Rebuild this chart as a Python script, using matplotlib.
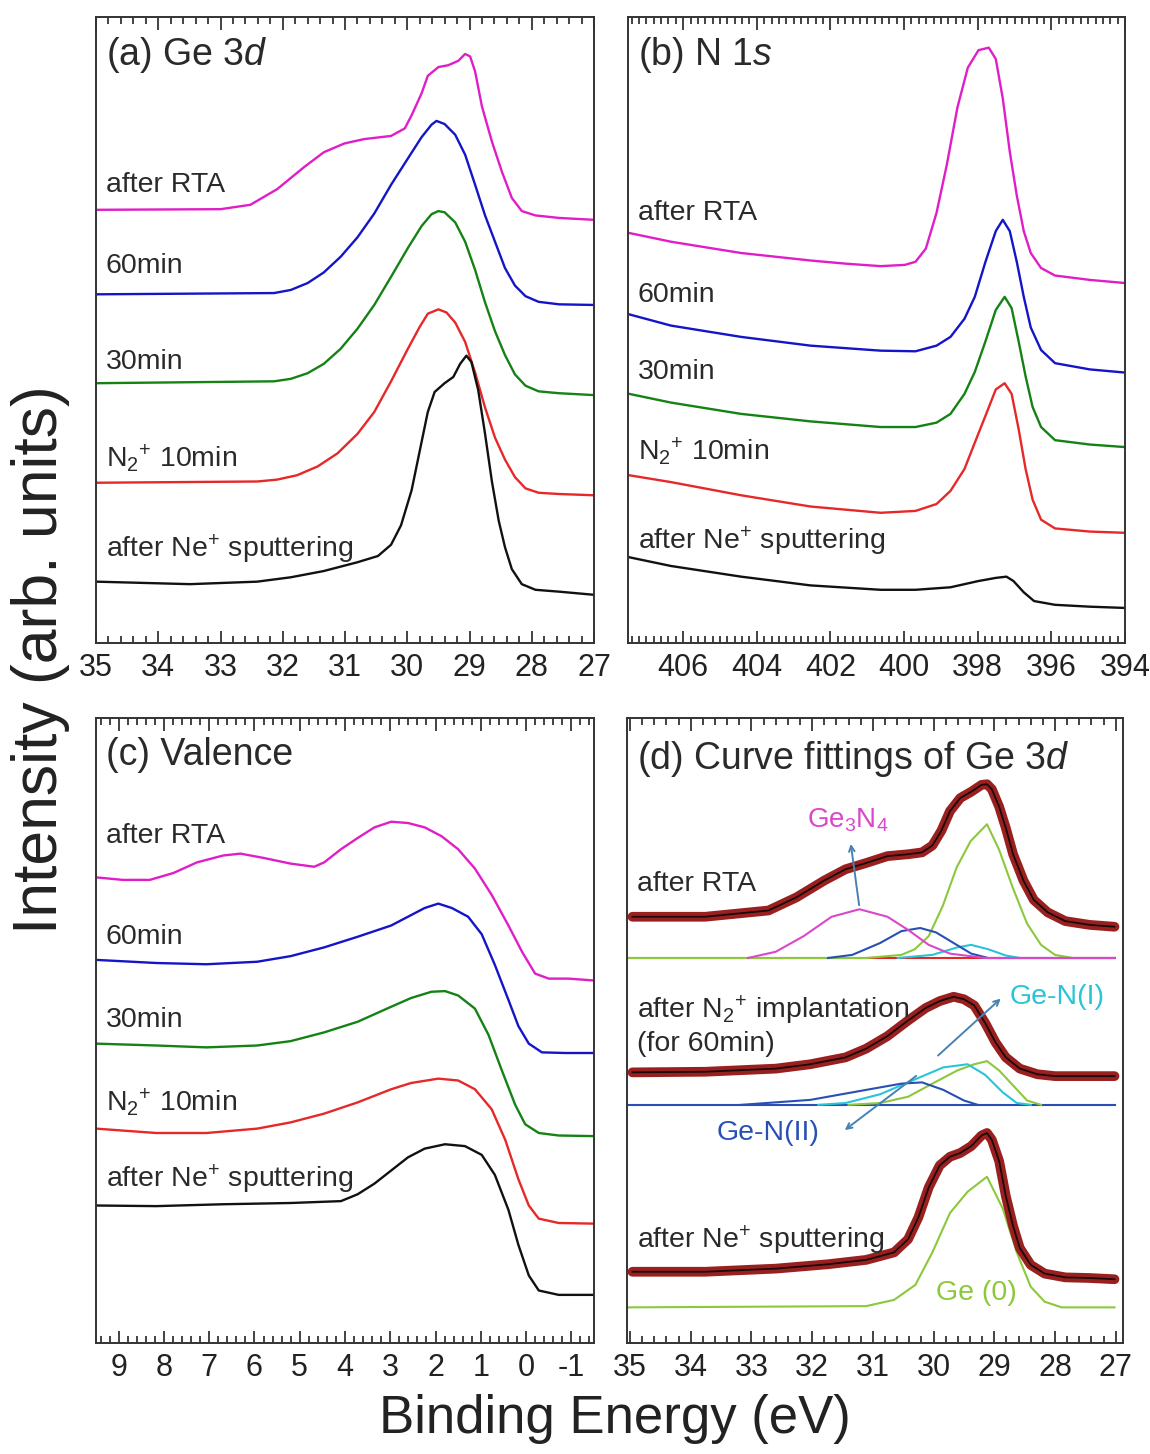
import matplotlib
matplotlib.use('Agg')
import matplotlib.pyplot as plt
from matplotlib import font_manager
from matplotlib.ticker import MultipleLocator

# pick a condensed Arial-like face if it is there
names = {f.name for f in font_manager.fontManager.ttflist}
base = 'Liberation Sans Narrow' if 'Liberation Sans Narrow' in names else 'Liberation Sans'
plt.rcParams['font.family'] = [base, 'DejaVu Sans']
plt.rcParams['mathtext.fontset'] = 'custom'
plt.rcParams['mathtext.rm'] = base
plt.rcParams['mathtext.it'] = base + ':italic'
plt.rcParams['axes.unicode_minus'] = False

# ---------------- data (intensity in arb. units, 0-100 of frame) ----------------
labels = ['after RTA', '60min', '30min', r'N$_2$$^{+}$ 10min', r'after Ne$^{+}$ sputtering']
colors = ['#e01ec8', '#1414c8', '#148214', '#e62828', '#111111']

# (a) Ge 3d
a_rta_x = [35.00, 33.00, 32.52, 32.09, 31.66, 31.34, 31.01, 30.69, 30.26, 30.04, 29.93, 29.77, 29.67, 29.50,
           29.34, 29.18, 29.07, 28.99, 28.91, 28.80, 28.64, 28.48, 28.32, 28.16, 27.94, 27.56, 27.00]
a_rta_y = [69.2, 69.3, 70.0, 72.5, 76.0, 78.4, 79.8, 80.5, 81.0, 82.2, 84.3, 87.8, 90.6, 92.0,
           92.3, 93.0, 94.1, 93.7, 91.3, 85.7, 80.1, 75.3, 71.1, 69.0, 68.3, 67.9, 67.6]
a_60_x = [35.00, 32.14, 31.87, 31.60, 31.34, 31.07, 30.80, 30.53, 30.26, 29.99, 29.77, 29.61, 29.53,
          29.40, 29.23, 29.07, 28.91, 28.75, 28.59, 28.43, 28.27, 28.10, 27.89, 27.56, 27.00]
a_60_y = [55.7, 55.9, 56.4, 57.5, 59.2, 61.7, 64.8, 68.6, 73.2, 77.4, 80.8, 82.8, 83.4,
          82.9, 81.2, 78.0, 73.2, 68.3, 64.1, 59.9, 57.1, 55.4, 54.5, 54.1, 54.0]
a_30_x = [35.00, 32.14, 31.87, 31.60, 31.34, 31.07, 30.80, 30.53, 30.26, 29.99, 29.77, 29.61, 29.50,
          29.40, 29.23, 29.07, 28.91, 28.75, 28.59, 28.43, 28.27, 28.10, 27.89, 27.56, 27.00]
a_30_y = [41.5, 41.8, 42.2, 43.1, 44.6, 47.0, 50.2, 54.0, 58.5, 63.1, 66.6, 68.5, 69.0,
          68.8, 67.2, 64.1, 59.6, 54.4, 49.8, 46.0, 42.9, 41.1, 40.2, 39.9, 39.6]
a_10_x = [35.00, 32.41, 32.09, 31.77, 31.44, 31.12, 30.80, 30.53, 30.26, 29.99, 29.80, 29.67, 29.50,
          29.37, 29.23, 29.07, 28.91, 28.75, 28.59, 28.43, 28.27, 28.10, 27.89, 27.56, 27.00]
a_10_y = [25.6, 25.8, 26.1, 26.8, 28.2, 30.3, 33.4, 36.9, 41.8, 47.0, 50.5, 52.6, 53.3,
          52.8, 51.2, 48.1, 43.2, 37.6, 32.8, 29.3, 26.5, 24.7, 24.0, 23.8, 23.6]
a_ne_x = [35.00, 33.49, 32.41, 31.87, 31.34, 30.80, 30.47, 30.26, 30.10, 29.93, 29.77, 29.67, 29.56, 29.40,
          29.26, 29.15, 29.05, 28.97, 28.86, 28.75, 28.64, 28.53, 28.43, 28.32, 28.16, 27.94, 27.56, 27.00]
a_ne_y = [9.8, 9.4, 9.8, 10.5, 11.5, 12.9, 13.9, 15.7, 18.8, 24.4, 32.1, 36.9, 40.1, 41.5,
          42.5, 44.6, 45.9, 44.9, 40.4, 33.4, 25.8, 19.5, 15.3, 11.8, 9.4, 8.5, 8.2, 7.7]
a_label_y = [73.2, 60.3, 44.9, 29.6, 15.0]

# (b) N 1s
b_rta_x = [407.47, 406.33, 404.43, 402.54, 401.59, 400.64, 399.98, 399.69, 399.41, 399.12, 398.84, 398.55, 398.27,
           397.98, 397.70, 397.51, 397.32, 397.13, 396.94, 396.75, 396.56, 396.28, 395.90, 394.95, 394.00]
b_rta_y = [65.5, 64.1, 62.3, 61.1, 60.6, 60.2, 60.4, 60.9, 63.0, 68.7, 76.4, 85.6, 91.9,
           94.7, 95.1, 93.3, 87.0, 78.5, 71.5, 65.8, 62.3, 59.9, 58.7, 58.0, 57.5]
b_60_x = [407.47, 406.33, 404.43, 402.54, 400.64, 399.69, 399.12, 398.74, 398.36, 398.08, 397.79,
          397.51, 397.32, 397.13, 396.94, 396.75, 396.56, 396.28, 395.90, 394.95, 394.00]
b_60_y = [52.5, 50.7, 48.9, 47.5, 46.7, 46.6, 47.5, 48.9, 51.8, 55.3, 60.9,
          65.8, 67.6, 65.8, 60.9, 55.3, 50.4, 46.8, 44.7, 43.7, 43.2]
b_30_x = [407.47, 406.33, 404.43, 402.54, 400.64, 399.69, 399.12, 398.74, 398.36, 398.08, 397.79,
          397.51, 397.27, 397.08, 396.89, 396.70, 396.51, 396.28, 395.90, 394.95, 394.00]
b_30_y = [39.8, 38.4, 36.6, 35.4, 34.5, 34.5, 35.2, 36.6, 39.8, 43.3, 48.2,
          53.2, 55.3, 53.5, 48.2, 42.6, 37.7, 34.5, 32.4, 31.7, 31.3]
b_10_x = b_30_x
b_10_y = [26.8, 25.7, 23.6, 21.8, 20.8, 21.1, 22.2, 24.3, 27.8, 32.0, 36.3,
          40.5, 41.5, 39.8, 34.2, 27.8, 22.9, 19.7, 18.3, 17.8, 17.6]
b_ne_x = [407.47, 406.33, 404.43, 402.54, 400.64, 399.69, 398.74, 397.98, 397.51, 397.22, 397.03,
          396.75, 396.47, 395.90, 394.95, 394.00]
b_ne_y = [13.7, 12.3, 10.6, 9.2, 8.5, 8.5, 8.9, 9.9, 10.4, 10.6, 9.9, 8.1, 6.7, 6.1, 5.8, 5.6]
b_label_y = [68.7, 55.6, 43.3, 30.6, 16.2]

# (c) Valence
c_rta_x = [9.50, 8.91, 8.31, 7.79, 7.27, 6.69, 6.31, 5.79, 5.20, 4.68, 4.46, 4.09, 3.72, 3.35,
           2.98, 2.61, 2.24, 1.87, 1.50, 1.13, 0.76, 0.39, 0.09, -0.20, -0.50, -0.94, -1.50]
c_rta_y = [74.5, 74.1, 74.1, 75.2, 76.9, 78.0, 78.3, 77.6, 76.7, 76.2, 76.9, 79.0, 80.8, 82.5,
           83.4, 83.2, 82.5, 81.1, 79.0, 75.9, 71.7, 66.8, 62.6, 59.1, 58.3, 58.3, 58.0]
c_60_x = [9.50, 8.17, 7.06, 5.94, 5.20, 4.46, 3.72, 2.98, 2.61, 2.24, 1.94, 1.64, 1.28, 0.98,
          0.69, 0.39, 0.17, -0.06, -0.35, -0.87, -1.50]
c_60_y = [61.3, 60.8, 60.6, 61.0, 61.9, 63.3, 65.0, 66.8, 68.2, 69.6, 70.3, 69.6, 68.2, 65.4,
          60.5, 54.9, 50.7, 47.9, 46.5, 46.4, 46.4]
c_30_x = [9.50, 8.17, 7.06, 5.94, 5.20, 4.46, 3.72, 2.98, 2.54, 2.09, 1.79, 1.50, 1.13, 0.83,
          0.54, 0.24, 0.02, -0.28, -0.72, -1.50]
c_30_y = [47.9, 47.6, 47.3, 47.6, 48.3, 49.7, 51.4, 53.8, 55.2, 56.2, 56.3, 55.6, 53.5, 49.3,
          43.7, 38.1, 35.0, 33.6, 33.2, 33.1]
c_10_x = [9.50, 8.17, 7.06, 5.94, 5.20, 4.46, 3.72, 2.98, 2.54, 1.94, 1.50, 1.13, 0.76, 0.46,
          0.17, -0.06, -0.28, -0.72, -1.50]
c_10_y = [34.3, 33.6, 33.6, 34.3, 35.3, 36.7, 38.5, 40.6, 41.6, 42.3, 42.0, 40.6, 37.4, 32.5,
          26.2, 22.0, 19.9, 19.2, 19.1]
c_ne_x = [9.50, 8.17, 6.69, 5.20, 4.09, 3.72, 3.35, 2.98, 2.61, 2.24, 1.79, 1.35, 0.98, 0.69,
          0.39, 0.17, -0.06, -0.28, -0.72, -1.50]
c_ne_y = [22.0, 21.9, 22.2, 22.4, 22.7, 23.8, 25.5, 27.6, 29.7, 31.1, 31.8, 31.5, 30.1, 26.9,
          21.3, 15.7, 10.8, 8.4, 7.7, 7.7]
c_label_y = [81.1, 65.0, 51.7, 38.5, 26.2]

# (d) curve fittings of Ge 3d
d_rta_x = [34.96, 33.76, 32.72, 32.26, 31.80, 31.45, 31.11, 30.76, 30.42, 30.19, 30.02, 29.87, 29.73, 29.56,
           29.38, 29.21, 29.12, 29.04, 28.92, 28.81, 28.69, 28.52, 28.35, 28.12, 27.83, 27.43, 27.02]
d_rta_y = [68.2, 68.2, 69.2, 71.3, 74.0, 75.8, 76.8, 77.9, 78.2, 78.5, 79.6, 82.0, 85.1, 87.2,
           88.2, 89.3, 89.4, 88.6, 85.8, 82.4, 78.2, 74.0, 70.9, 68.9, 67.5, 66.9, 66.6]
d_rta_bg_x, d_rta_bg_y = [35.05, 27.02], [61.6, 61.6]
d_rta_ge0_x = [35.05, 31.11, 30.53, 30.31, 30.08, 29.85, 29.62, 29.39, 29.12, 28.92, 28.69, 28.46,
               28.23, 28.00, 27.71, 27.02]
d_rta_ge0_y = [61.6, 61.6, 62.1, 63.0, 65.1, 69.9, 76.1, 80.3, 83.0, 78.9, 72.7, 67.1, 63.7, 62.1, 61.6, 61.6]
d_rta_gen1_x = [30.59, 30.02, 29.61, 29.38, 29.10, 28.81, 28.58]
d_rta_gen1_y = [61.6, 62.1, 63.3, 63.7, 63.0, 62.0, 61.6]
d_rta_gen2_x = [31.74, 31.34, 30.88, 30.53, 30.22, 29.96, 29.67, 29.38, 29.10, 27.02]
d_rta_gen2_y = [61.6, 62.1, 64.0, 65.9, 66.4, 65.7, 64.0, 62.3, 61.6, 61.6]
d_rta_ge3n4_x = [33.06, 32.60, 32.14, 31.68, 31.22, 30.76, 30.42, 30.08, 29.73, 29.15, 27.02]
d_rta_ge3n4_y = [61.6, 62.6, 65.1, 68.2, 69.4, 68.2, 66.1, 63.7, 62.3, 61.6, 61.6]

d_n2_x = [34.96, 33.76, 32.60, 32.03, 31.45, 31.11, 30.76, 30.42, 30.13, 29.90, 29.67, 29.50, 29.33,
          29.15, 28.98, 28.81, 28.58, 28.29, 28.00, 27.43, 27.02]
d_n2_y = [43.3, 43.4, 43.9, 44.6, 45.7, 47.1, 49.1, 51.6, 53.6, 54.7, 55.4, 55.0, 54.0,
          51.2, 48.1, 45.7, 43.9, 43.0, 42.7, 42.7, 42.7]
d_n2_bg_x, d_n2_bg_y = [35.05, 27.02], [38.1, 38.1]
d_n2_ge0_x = [31.40, 30.88, 30.42, 30.02, 29.61, 29.33, 29.12, 28.92, 28.69, 28.46, 28.23]
d_n2_ge0_y = [38.1, 38.4, 39.4, 41.5, 43.6, 44.6, 45.1, 43.6, 41.2, 38.8, 38.1]
d_n2_gen1_x = [31.90, 31.45, 30.88, 30.30, 29.84, 29.44, 29.15, 28.86, 28.63, 28.40]
d_n2_gen1_y = [38.1, 38.4, 39.8, 42.2, 44.1, 44.6, 42.9, 40.1, 38.4, 38.1]
d_n2_gen2_x = [33.18, 32.03, 31.11, 30.53, 30.19, 29.84, 29.50, 29.27]
d_n2_gen2_y = [38.1, 38.9, 40.5, 41.5, 41.7, 40.5, 38.8, 38.1]

d_ne_x = [34.96, 33.76, 32.60, 31.74, 31.11, 30.65, 30.42, 30.25, 30.08, 29.90, 29.73, 29.56, 29.38,
          29.21, 29.12, 29.04, 28.92, 28.81, 28.69, 28.58, 28.40, 28.17, 27.83, 27.43, 27.02]
d_ne_y = [11.4, 11.4, 11.9, 12.6, 13.3, 14.5, 16.6, 20.1, 24.9, 28.4, 29.8, 30.4, 31.5,
          33.2, 33.6, 32.5, 29.1, 23.5, 18.7, 15.2, 12.5, 11.1, 10.5, 10.4, 10.2]
d_ne_ge0_x = [35.05, 31.11, 30.65, 30.30, 30.02, 29.73, 29.44, 29.12, 28.86, 28.63, 28.40, 28.17, 27.89, 27.02]
d_ne_ge0_y = [5.7, 5.9, 6.9, 9.3, 14.5, 20.8, 24.2, 26.6, 21.5, 14.5, 9.0, 6.6, 5.7, 5.7]

# colours of the fitted components
c_ge0, c_gen1, c_gen2, c_ge3n4, c_data = '#8cc83c', '#28c4d8', '#2850b4', '#d848c8', '#9a2020'
c_arrow = '#4682b4'

# ---------------- figure ----------------
fig = plt.figure(figsize=(11.5, 14.54), dpi=100)
W, H = 1150, 1454


def make_ax(left, top, right, bottom):
    return fig.add_axes([left / W, 1 - bottom / H, (right - left) / W, (bottom - top) / H])


ax_a = make_ax(96, 17, 594, 643)
ax_b = make_ax(628, 17, 1125, 643)
ax_c = make_ax(96, 718, 594, 1343)
ax_d = make_ax(627, 718, 1123, 1343)

txt = '#2a2a2a'
lab_fs = 20.5
title_fs = 27


def style(ax, xlim, major, minor):
    ax.set_xlim(*xlim)
    ax.set_ylim(0, 100)
    ax.set_yticks([])
    ax.xaxis.set_major_locator(MultipleLocator(major))
    ax.xaxis.set_minor_locator(MultipleLocator(minor))
    ax.tick_params(axis='x', which='both', direction='in', top=True, bottom=True,
                   labelsize=22, pad=7, width=1.2, colors='#222222')
    ax.tick_params(axis='x', which='major', length=9)
    ax.tick_params(axis='x', which='minor', length=5)
    for s in ax.spines.values():
        s.set_linewidth(1.4)
        s.set_color('#333333')


def stack(ax, xs, ys, label_y):
    for x, y, col in zip(xs, ys, colors):
        ax.plot(x, y, color=col, lw=1.7)
    for lab, ly in zip(labels, label_y):
        ax.text(0.02, ly / 100, lab, transform=ax.transAxes, fontsize=lab_fs, color=txt,
                ha='left', va='center')


# (a)
stack(ax_a, [a_rta_x, a_60_x, a_30_x, a_10_x, a_ne_x],
      [a_rta_y, a_60_y, a_30_y, a_10_y, a_ne_y], a_label_y)
style(ax_a, (35, 27), 1, 0.2)
ax_a.text(0.02, 0.94, r'(a) Ge 3$\mathit{d}$', transform=ax_a.transAxes, fontsize=title_fs,
          color=txt, va='center')

# (b)
stack(ax_b, [b_rta_x, b_60_x, b_30_x, b_10_x, b_ne_x],
      [b_rta_y, b_60_y, b_30_y, b_10_y, b_ne_y], b_label_y)
style(ax_b, (407.5, 394), 2, 0.2)
ax_b.text(0.02, 0.94, r'(b) N 1$\mathit{s}$', transform=ax_b.transAxes, fontsize=title_fs,
          color=txt, va='center')

# (c)
stack(ax_c, [c_rta_x, c_60_x, c_30_x, c_10_x, c_ne_x],
      [c_rta_y, c_60_y, c_30_y, c_10_y, c_ne_y], c_label_y)
style(ax_c, (9.5, -1.5), 1, 0.2)
ax_c.text(0.02, 0.941, '(c) Valence', transform=ax_c.transAxes, fontsize=title_fs,
          color=txt, va='center')

# (d) fitted components first, then the measured envelope
ax_d.plot(d_rta_bg_x, d_rta_bg_y, color='#e02828', lw=1.5)
ax_d.plot(d_rta_ge0_x, d_rta_ge0_y, color=c_ge0, lw=1.5)
ax_d.plot(d_rta_gen1_x, d_rta_gen1_y, color=c_gen1, lw=1.5)
ax_d.plot(d_rta_gen2_x, d_rta_gen2_y, color=c_gen2, lw=1.5)
ax_d.plot(d_rta_ge3n4_x, d_rta_ge3n4_y, color=c_ge3n4, lw=1.5)

ax_d.plot(d_n2_bg_x, d_n2_bg_y, color=c_gen2, lw=1.5)
ax_d.plot(d_n2_ge0_x, d_n2_ge0_y, color=c_ge0, lw=1.5)
ax_d.plot(d_n2_gen1_x, d_n2_gen1_y, color=c_gen1, lw=1.5)
ax_d.plot(d_n2_gen2_x, d_n2_gen2_y, color=c_gen2, lw=1.5)

ax_d.plot(d_ne_ge0_x, d_ne_ge0_y, color=c_ge0, lw=1.5)

for x, y in [(d_rta_x, d_rta_y), (d_n2_x, d_n2_y), (d_ne_x, d_ne_y)]:
    ax_d.plot(x, y, color=c_data, lw=7, solid_capstyle='round')
    ax_d.plot(x, y, color='#1a0a0a', lw=1.3)

style(ax_d, (35.05, 26.88), 1, 0.2)
ax_d.text(0.02, 0.934, r'(d) Curve fittings of Ge 3$\mathit{d}$', transform=ax_d.transAxes,
          fontsize=title_fs, color=txt, va='center')
ax_d.text(0.02, 0.734, 'after RTA', transform=ax_d.transAxes, fontsize=lab_fs, color=txt, va='center')
ax_d.text(0.02, 0.533, r'after N$_2$$^{+}$ implantation', transform=ax_d.transAxes,
          fontsize=lab_fs, color=txt, va='center')
ax_d.text(0.02, 0.478, '(for 60min)', transform=ax_d.transAxes, fontsize=lab_fs, color=txt, va='center')
ax_d.text(0.02, 0.165, r'after Ne$^{+}$ sputtering', transform=ax_d.transAxes,
          fontsize=lab_fs, color=txt, va='center')

ax_d.text(31.42, 83.7, r'Ge$_3$N$_4$', color=c_ge3n4, fontsize=20, ha='center', va='center')
ax_d.annotate('', xy=(31.37, 80.3), xytext=(31.22, 69.6),
              arrowprops=dict(arrowstyle='->', color=c_arrow, lw=1.4))
ax_d.text(28.75, 55.4, 'Ge-N(I)', color=c_gen1, fontsize=lab_fs, ha='left', va='center')
ax_d.annotate('', xy=(28.86, 55.4), xytext=(29.96, 45.7),
              arrowprops=dict(arrowstyle='->', color=c_arrow, lw=1.4))
ax_d.text(33.58, 33.6, 'Ge-N(II)', color=c_gen2, fontsize=lab_fs, ha='left', va='center')
ax_d.annotate('', xy=(31.50, 33.8), xytext=(30.25, 43.0),
              arrowprops=dict(arrowstyle='->', color=c_arrow, lw=1.4))
ax_d.text(29.96, 8.0, 'Ge (0)', color=c_ge0, fontsize=lab_fs, ha='left', va='center')

# shared axis titles
fig.text(0.035, 0.546, 'Intensity (arb. units)', rotation=90, fontsize=45,
         color='#222222', ha='center', va='center', family=['Liberation Sans', 'DejaVu Sans'])
fig.text(0.535, 0.024, 'Binding Energy (eV)', fontsize=38, color='#222222',
         ha='center', va='center')

fig.savefig('out.png', dpi=100)
